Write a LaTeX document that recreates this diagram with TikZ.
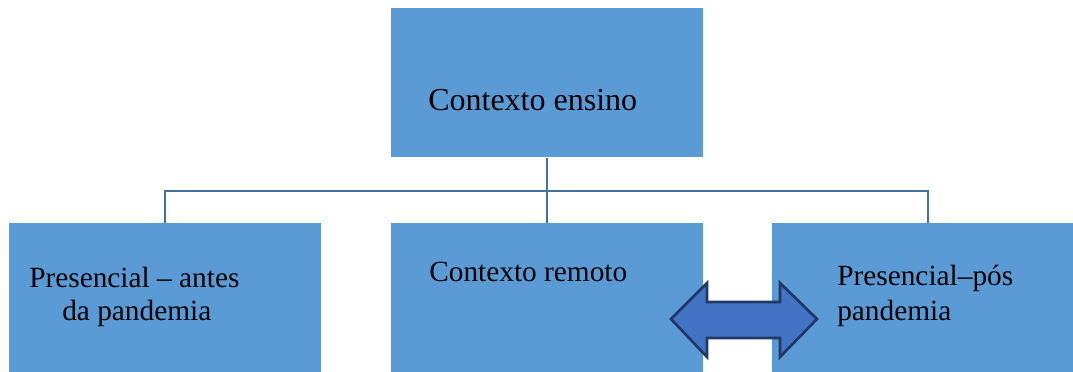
\documentclass[tikz,border=0pt]{standalone}
\usepackage{fontspec}
\setmainfont{Liberation Serif}
\definecolor{boxblue}{HTML}{5B9BD5}
\definecolor{linkblue}{HTML}{41719C}
\definecolor{arrowfill}{HTML}{4472C4}
\definecolor{arrowedge}{HTML}{1F3864}
\begin{document}
\begin{tikzpicture}[x=0.75pt,y=-0.75pt,
  boxnode/.style={draw=none,fill=boxblue,rectangle,inner sep=0pt,minimum width=312*0.75pt,minimum height=149*0.75pt,anchor=north west},
  txt/.style={anchor=base west,inner sep=0pt,font=\fontsize{22}{23}\selectfont,text=black},
  bigtxt/.style={txt,font=\fontsize{24}{25}\selectfont},
  link/.style={draw=linkblue,line width=1.5pt}]
\useasboundingbox (0,0) rectangle (1073,371);
\clip (0,0) rectangle (1073,371);
\fill[white] (0,0) rectangle (1073,371);
% boxes
\node[boxnode] (top) at (391,8) {};
\node[boxnode] (left) at (9,223) {};
\node[boxnode] (mid) at (391,223) {};
\node[boxnode] (right) at (772,223) {};
% texts
\node[bigtxt] (ttop) at (428,110) {Contexto ensino};
\node[txt] (tl1) at (29,287) {Presencial – antes};
\node[txt] (tl2) at (62,320) {da pandemia};
\node[txt] (tm) at (429,281) {Contexto remoto};
\node[txt] (tr1) at (837,285) {Presencial–pós};
\node[txt] (tr2) at (837,320) {pandemia};
% connectors
\coordinate (hub) at (top.south |- 0,191);
\draw[link] (top.south) -- (mid.north);
\draw[link] (left.north) -- (left.north |- hub) -- (right.north |- hub) -- (right.north);
% double arrow
\draw[fill=arrowfill,draw=arrowedge,line width=2pt,line join=miter]
  (671,319) -- (707,283) -- (707,302) -- (780,302) -- (780,283) -- (817,319)
  -- (780,357) -- (780,338) -- (707,338) -- (707,357) -- cycle;
\end{tikzpicture}
\end{document}
